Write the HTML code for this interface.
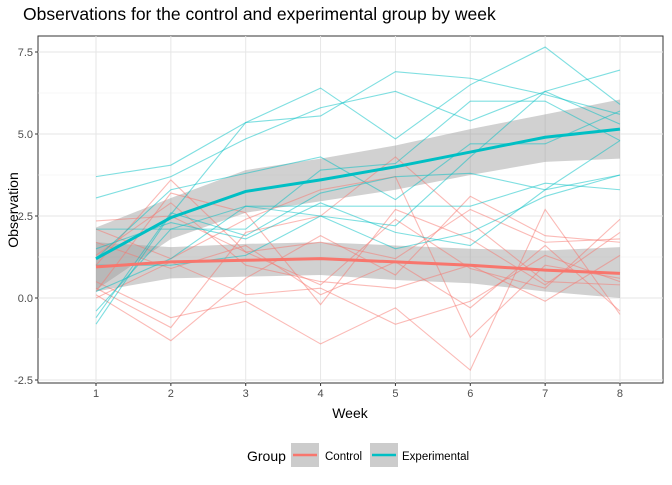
<!DOCTYPE html>
<html><head><meta charset="utf-8"><style>
body{margin:0;background:#fff;font-family:"Liberation Sans",Arial,sans-serif}
</style></head><body>
<svg id="chart" width="672" height="480" xmlns="http://www.w3.org/2000/svg">
<rect width="672" height="480" fill="#fff"/>
<text x="23" y="20" font-size="17.5" fill="#000">Observations for the control and experimental group by week</text>
<rect x="38" y="36" width="625" height="347" fill="#fff" stroke="#333" stroke-width="1"/>
<g id="grid"></g><g id="bands"></g><g id="lines"></g><g id="means"></g><g id="axes"></g>
<text x="350" y="418" font-size="14" text-anchor="middle">Week</text>
<text transform="translate(18,210) rotate(-90)" font-size="14" text-anchor="middle">Observation</text>
<g>
<text x="247" y="461" font-size="14">Group</text>
<g><rect x="291" y="443" width="28" height="24" fill="#cccccc"/><line x1="293" y1="455" x2="317" y2="455" stroke="#F8766D" stroke-width="2.5"/><text x="325" y="460" font-size="11.5">Control</text></g>
<g><rect x="370" y="443" width="28" height="24" fill="#cccccc"/><line x1="372" y1="455" x2="396" y2="455" stroke="#00BFC4" stroke-width="2.5"/><text x="402" y="460" font-size="11.5">Experimental</text></g>
</g>
</svg>
<script>
const weeks=[1,2,3,4,5,6,7,8];
const yTicks=[-2.5,0,2.5,5,7.5];
const yTickLabels=["-2.5","0.0","2.5","5.0","7.5"];
const controlSeries=[
[2.35,2.5,1.4,1.7,1.2,2.7,1.7,1.8],
[0.1,-1.3,0.6,1.9,0.7,3.1,1.9,1.7],
[1.0,3.6,1.4,0.4,2.4,0.9,0.3,2.4],
[0.5,-0.6,-0.1,-1.4,-0.3,-2.2,2.7,-0.5],
[2.1,1.2,2.4,3.3,3.7,-1.2,1.0,0.6],
[0.3,-0.9,2.0,2.5,4.3,2.3,0.5,0.4],
[1.3,2.9,1.0,0.5,0.3,1.0,-0.1,1.3],
[0.0,1.1,0.1,0.3,-0.8,-0.1,1.3,0.5],
[1.7,0.9,1.6,0.1,1.1,-0.3,1.6,-0.4],
[0.2,3.2,2.6,-0.2,2.7,1.8,0.4,2.0]];
const expSeries=[
[3.7,4.05,5.35,5.55,6.9,6.7,6.2,5.6],
[3.05,3.7,4.85,5.8,6.3,5.4,6.3,6.95],
[-0.8,2.55,5.35,6.4,4.85,6.5,7.65,5.9],
[1.2,3.3,3.8,4.3,3.0,4.7,4.7,5.7],
[-0.4,2.1,2.1,3.9,4.1,6.0,6.0,4.8],
[2.1,2.1,2.8,2.8,2.8,2.8,3.5,3.3],
[-0.6,2.6,1.9,3.2,3.7,3.8,3.3,3.75],
[1.0,1.0,1.3,2.5,1.5,2.0,3.1,3.75],
[1.5,2.3,1.8,2.9,2.0,1.6,3.3,4.8],
[0.2,1.2,2.8,2.5,2.2,4.3,6.3,5.3]];
const controlMean=[0.95,1.1,1.15,1.2,1.1,1.0,0.85,0.75];
const controlLo=[0.2,0.6,0.65,0.7,0.55,0.45,0.2,0.0];
const controlHi=[1.7,1.55,1.65,1.7,1.6,1.5,1.45,1.55];
const expMean=[1.2,2.45,3.25,3.6,4.0,4.45,4.9,5.15];
const expLo=[0.25,1.8,2.6,2.95,3.3,3.75,4.15,4.25];
const expHi=[2.15,3.05,3.9,4.25,4.65,5.15,5.6,6.05];
const X=w=>96+(w-1)*74.857;
const Y=v=>298-v*32.8;
const NS="http://www.w3.org/2000/svg";
function mk(parent,tag,attrs){const e=document.createElementNS(NS,tag);for(const k in attrs)e.setAttribute(k,attrs[k]);document.getElementById(parent).appendChild(e);return e;}
for(let i=0;i<yTicks.length;i++){
 const l=mk('grid','line',{x1:38,x2:663,y1:Y(yTicks[i]),y2:Y(yTicks[i]),stroke:'#e6e6e6','stroke-width':1});
 
 
 if(i<yTicks.length-1){const m=mk('grid','line',{x1:38,x2:663,y1:Y(yTicks[i]+1.25),y2:Y(yTicks[i]+1.25),stroke:'#f0f0f0','stroke-width':0.6});
 
 }
 const t=mk('axes','text',{x:33,y:Y(yTicks[i])+4,'font-size':11,'text-anchor':'end',fill:'#4d4d4d'});t.textContent=yTickLabels[i];
 
 
 mk('axes','line',{x1:35,x2:38,y1:Y(yTicks[i]),y2:Y(yTicks[i]),stroke:'#333'});
}
weeks.forEach(w=>{
 const l=mk('grid','line',{x1:X(w),x2:X(w),y1:36,y2:383,stroke:'#e6e6e6','stroke-width':1});
 
 
 const t=mk('axes','text',{x:X(w),y:397,'font-size':11,'text-anchor':'middle',fill:'#4d4d4d'});t.textContent=w;
 
 
 mk('axes','line',{x1:X(w),x2:X(w),y1:383,y2:386,stroke:'#333'});
});
const pts=a=>a.map((v,i)=>X(weeks[i])+','+Y(v)).join(' ');
function band(lo,hi,name){const p=weeks.map((w,i)=>X(w)+','+Y(hi[i])).concat(weeks.slice().reverse().map((w,j)=>X(w)+','+Y(lo[weeks.length-1-j])));
 const e=mk('bands','polygon',{points:p.join(' '),fill:'#999','fill-opacity':0.45});
 
 }
band(controlLo,controlHi,'control-ci-band');
band(expLo,expHi,'experimental-ci-band');
controlSeries.forEach(s=>{const e=mk('lines','polyline',{points:pts(s),fill:'none',stroke:'#F8766D','stroke-opacity':0.5,'stroke-width':1.1});
 
 });
expSeries.forEach(s=>{const e=mk('lines','polyline',{points:pts(s),fill:'none',stroke:'#00BFC4','stroke-opacity':0.5,'stroke-width':1.1});
 
 });
const cm=mk('means','polyline',{points:pts(controlMean),fill:'none',stroke:'#F8766D','stroke-width':3});


const em=mk('means','polyline',{points:pts(expMean),fill:'none',stroke:'#00BFC4','stroke-width':3});


</script>
</body></html>
